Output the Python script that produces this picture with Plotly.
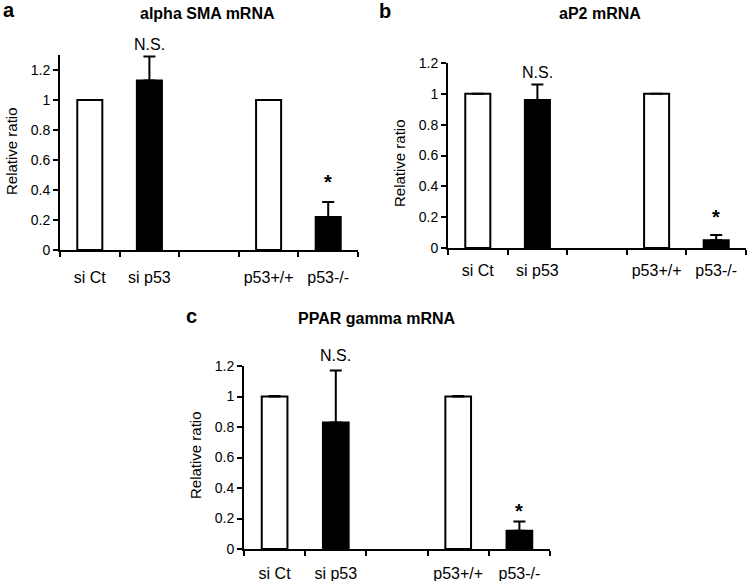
import plotly.graph_objects as go

W, H = 747, 581

categories = ["si Ct", "si p53", " ", "p53+/+", "p53-/-"]
bar_colors = ["white", "black", "white", "white", "black"]

# panel a: alpha SMA mRNA
sma_values = [1.0, 1.13, None, 1.0, 0.22]
sma_errors = [0, 0.16, 0, 0, 0.10]
# panel b: aP2 mRNA
ap2_values = [1.0, 0.96, None, 1.0, 0.05]
ap2_errors = [0, 0.10, 0, 0, 0.035]
# panel c: PPAR gamma mRNA
ppar_values = [1.0, 0.83, None, 1.0, 0.12]
ppar_errors = [0.004, 0.34, 0, 0.004, 0.06]

yticks = [0, 0.2, 0.4, 0.6, 0.8, 1.0, 1.2]
yticktext = ["0", "0.2", "0.4", "0.6", "0.8", "1", "1.2"]

FONT = "Liberation Sans, Arial, sans-serif"


def px_x(px):
    return px / W


def px_y(py):
    return 1 - py / H


fig = go.Figure()

panels = [
    # (xaxis, yaxis, values, errors, x px range, y0 px, ytop px, ymax, ns_y, star_y, label standoff)
    ("x", "y", sma_values, sma_errors, (60, 358), 250, 55, 1.3, 1.37, 0.45, 12),
    ("x2", "y2", ap2_values, ap2_errors, (448, 746), 248, 63, 1.2, 1.14, 0.2, 7),
    ("x3", "y3", ppar_values, ppar_errors, (244, 550), 549, 366, 1.2, 1.27, 0.25, 9),
]

layout = {}
for i, (xa, ya, vals, errs, (x0, x1), y0, ytop, ymax, ns_y, star_y, standoff) in enumerate(panels):
    fig.add_trace(go.Bar(
        x=categories, y=vals, xaxis=xa, yaxis=ya,
        marker=dict(color=bar_colors, line=dict(color="black", width=2)),
        width=0.42,
        error_y=dict(type="data", array=errs, arrayminus=[0] * 5, symmetric=False,
                     color="black", thickness=2, width=6),
        showlegend=False,
    ))
    suffix = "" if i == 0 else str(i + 1)
    layout["xaxis" + suffix] = dict(
        domain=[px_x(x0), px_x(x1)], anchor=ya, type="category",
        categoryorder="array", categoryarray=categories,
        showline=True, linecolor="black", linewidth=2,
        ticks="outside", tickson="boundaries", ticklen=5, tickwidth=2, tickcolor="black",
        tickfont=dict(family=FONT, size=16, color="black"), tickangle=0,
        showgrid=False, zeroline=False, automargin=False, ticklabelstandoff=standoff,
    )
    layout["yaxis" + suffix] = dict(
        domain=[px_y(y0), px_y(ytop)], anchor=xa, range=[0, ymax],
        tickvals=yticks, ticktext=yticktext,
        showline=True, linecolor="black", linewidth=2,
        ticks="outside", ticklen=5, tickwidth=2, tickcolor="black",
        tickfont=dict(family=FONT, size=14, color="black"),
        showgrid=False, zeroline=False, automargin=False,
    )

    def to_paper(v, y0=y0, ytop=ytop, ymax=ymax):
        return px_y(y0 - v / ymax * (y0 - ytop))

    fig.add_annotation(x="si p53", y=to_paper(ns_y), xref=xa, yref="paper", text="N.S.",
                       showarrow=False, xanchor="center", yanchor="middle",
                       font=dict(family=FONT, size=16, color="black"))
    fig.add_annotation(x="p53-/-", y=to_paper(star_y), xref=xa, yref="paper", text="<b>*</b>",
                       showarrow=False, xanchor="center", yanchor="middle",
                       font=dict(family=FONT, size=20, color="black"))

fig.update_layout(**layout)

# panel letters, titles, y-axis titles (pixel positions)
texts = [
    ("<b>a</b>", 9, 10, 20), ("<b>b</b>", 385, 11, 20), ("<b>c</b>", 191, 316, 20),
    ("<b>alpha SMA mRNA</b>", 207, 14, 16), ("<b>aP2 mRNA</b>", 600, 14, 16),
    ("<b>PPAR gamma mRNA</b>", 377, 318, 16),
]
for t, px, py, size in texts:
    fig.add_annotation(x=px_x(px), y=px_y(py), xref="paper", yref="paper", text=t,
                       showarrow=False, xanchor="center", yanchor="middle",
                       font=dict(family=FONT, size=size, color="black"))

for px, py in [(12, 151), (399, 163), (195, 455)]:
    fig.add_annotation(x=px_x(px), y=px_y(py), xref="paper", yref="paper",
                       text="Relative ratio", textangle=-90, showarrow=False,
                       xanchor="center", yanchor="middle",
                       font=dict(family=FONT, size=15, color="black"))

fig.update_layout(
    width=W, height=H, margin=dict(l=0, r=0, t=0, b=0),
    plot_bgcolor="white", paper_bgcolor="white",
)

# drop the page's default body margin so the figure fills the window
fig.write_html("out.html", config={"displayModeBar": False},
               post_script="document.body.style.margin = '0';")
